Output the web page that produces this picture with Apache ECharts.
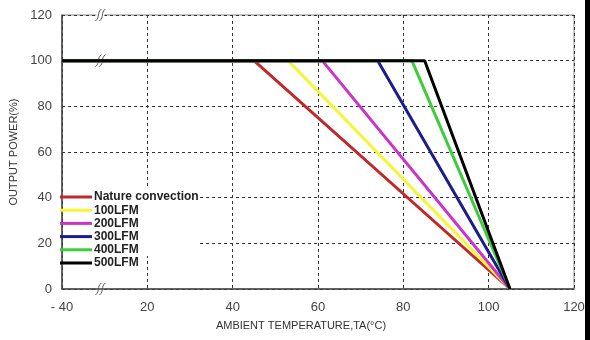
<!DOCTYPE html>
<html>
<head>
<meta charset="utf-8">
<script src="https://cdn.jsdelivr.net/npm/echarts@6/dist/echarts.min.js"></script>
<style>
  html, body { margin: 0; padding: 0; background: #fff; }
  #chart { width: 590px; height: 340px; }
</style>
</head>
<body>
<div id="chart"></div>
<script>
// Derating curves: output power vs ambient temperature for each airflow.
// The temperature axis is broken; its first position is labelled "- 40".
const seriesNames = ['Nature convection', '100LFM', '200LFM', '300LFM', '400LFM', '500LFM'];
const seriesColors = ['#c0282a', '#f5f53a', '#cc33cc', '#1c1c8c', '#3ccc3c', '#000000'];
// Temperature where each curve leaves 100 % and where all curves reach 0 %
const kneeTemps = [45, 53, 61, 74, 82, 85];
const fullPower = 100;
const zeroTemp = 105;
const xTicks = [0, 20, 40, 60, 80, 100, 120];
const xTickLabels = ['- 40', '20', '40', '60', '80', '100', '120'];
const yTicks = [0, 20, 40, 60, 80, 100, 120];

const chart = echarts.init(document.getElementById('chart'));
const font = 'Liberation Sans, Arial, sans-serif';

const series = seriesNames.map((name, i) => ({
  name: name,
  type: 'line',
  data: [[xTicks[0], fullPower], [kneeTemps[i], fullPower], [zeroTemp, 0]],
  symbol: 'none',
  lineStyle: { color: seriesColors[i], width: 3 },
  itemStyle: { color: seriesColors[i] },
  z: 3 + i,
  animation: false
}));

chart.setOption({
  animation: false,
  grid: {
    left: 62, right: 16, top: 15, bottom: 51,
    show: true, borderColor: '#8a8a8a', borderWidth: 1
  },
  xAxis: {
    type: 'value', min: 0, max: 120, interval: 20,
    name: 'AMBIENT TEMPERATURE,TA(°C)',
    nameLocation: 'middle', nameGap: 31,
    nameTextStyle: { fontFamily: font, fontSize: 11, color: '#333', padding: [0, 34, 0, 0] },
    axisLine: { show: true, lineStyle: { color: '#444', width: 1.5 } },
    axisTick: { show: false },
    axisLabel: {
      fontFamily: font, fontSize: 13, color: '#444', margin: 12,
      formatter: v => xTickLabels[xTicks.indexOf(v)]
    },
    splitLine: { show: true, lineStyle: { color: '#333', type: [3, 3], width: 1 } }
  },
  yAxis: {
    type: 'value', min: 0, max: 120, interval: 20,
    name: 'OUTPUT POWER(%)',
    nameLocation: 'middle', nameGap: 36,
    nameTextStyle: { fontFamily: font, fontSize: 11, color: '#333' },
    axisLine: { show: true, lineStyle: { color: '#444', width: 1.5 } },
    axisTick: { show: false },
    axisLabel: { fontFamily: font, fontSize: 13, color: '#444', margin: 10 },
    splitLine: { show: true, lineStyle: { color: '#333', type: [3, 3], width: 1 } }
  },
  legend: {
    orient: 'vertical', left: 60, top: 191,
    itemWidth: 32, itemHeight: 3, itemGap: 1.2,
    icon: 'rect', padding: 0, z: 20,
    textStyle: { fontFamily: font, fontSize: 12, color: '#222', fontWeight: 'bold', lineHeight: 12, padding: [0, 0, 0, -3] },
    data: seriesNames
  },
  series: series
});

// White panel behind the legend, plus axis-break marks and the dark right edge
function breakMark(x, y) {
  const wave = dx => ({
    type: 'bezierCurve',
    shape: { x1: x + dx - 3, y1: y + 6, x2: x + dx + 3, y2: y - 6, cpx1: x + dx + 2, cpy1: y + 2, cpx2: x + dx - 2, cpy2: y - 2 },
    style: { stroke: '#555', lineWidth: 1, fill: null }
  });
  return {
    type: 'group', z: 30,
    children: [
      { type: 'rect', shape: { x: x - 4, y: y - 5, width: 8, height: 10 }, style: { fill: '#fff' } },
      wave(-2), wave(2)
    ]
  };
}

const bx = chart.convertToPixel({ gridIndex: 0 }, [9, 0])[0];
const yTop = chart.convertToPixel({ gridIndex: 0 }, [0, 120])[1];
const yFull = chart.convertToPixel({ gridIndex: 0 }, [0, fullPower])[1];
const yZero = chart.convertToPixel({ gridIndex: 0 }, [0, 0])[1];

chart.setOption({
  graphic: [
    { type: 'rect', z: 10, shape: { x: 63, y: 188, width: 137, height: 68 }, style: { fill: '#fff' } },
    breakMark(bx, yTop),
    breakMark(bx, yFull),
    breakMark(bx, yZero),
    { type: 'rect', z: 40, shape: { x: 585, y: 0, width: 5, height: 340 }, style: { fill: '#000' } }
  ]
});
</script>
</body>
</html>
